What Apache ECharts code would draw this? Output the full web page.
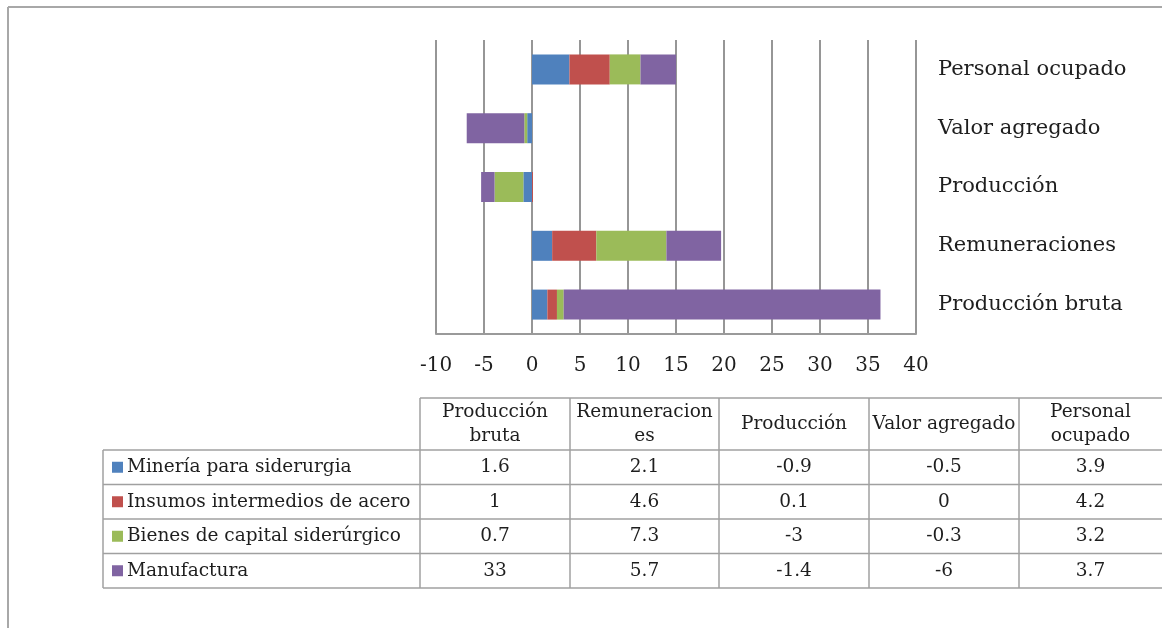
<!DOCTYPE html>
<html>
<head>
<meta charset="utf-8">
<script src="https://cdn.jsdelivr.net/npm/echarts@6/dist/echarts.min.js"></script>
<style>
  html, body { margin: 0; padding: 0; background: #ffffff; }
  #chart { width: 1162px; height: 628px; }
</style>
</head>
<body>
<div id="chart"></div>
<script>
// Indicators (bottom to top on the chart, left to right in the data table)
const categories = ['Producción bruta', 'Remuneraciones', 'Producción', 'Valor agregado', 'Personal ocupado'];
// Column headings of the data table, wrapped as they appear in the cells
const tableHeaders = ['Producción\nbruta', 'Remuneracion\nes', 'Producción', 'Valor agregado', 'Personal\nocupado'];

// Sector contributions per indicator
const seriesNames = ['Minería para siderurgia', 'Insumos intermedios de acero', 'Bienes de capital siderúrgico', 'Manufactura'];
const mineria     = [1.6, 2.1, -0.9, -0.5, 3.9];
const insumos     = [1, 4.6, 0.1, 0, 4.2];
const bienes      = [0.7, 7.3, -3, -0.3, 3.2];
const manufactura = [33, 5.7, -1.4, -6, 3.7];
const seriesColors = ['#4F81BD', '#C0504D', '#9BBB59', '#8064A2'];

// Value axis range
const xMin = -10, xMax = 40, xStep = 5;

const seriesValues = [mineria, insumos, bienes, manufactura];

const FONT = '"DejaVu Serif", "Liberation Serif", serif';
const TEXT = '#1e1e1e';
const RULE = '#a0a0a0';

// Plot rectangle
const plot = { left: 436, top: 40, width: 480, height: 294 };

// Data table layout
const table = {
  legendLeft: 103,
  colEdges: [420, 570, 719, 869, 1019, 1162],
  headerTop: 398,
  headerBottom: 450,
  rowHeight: 34.5,
  right: 1162
};

const graphics = [];

function hline(x1, x2, y, w, c) {
  graphics.push({ type: 'line', silent: true, shape: { x1: x1, y1: y, x2: x2, y2: y }, style: { stroke: c || RULE, lineWidth: w || 1.5 } });
}
function vline(x, y1, y2, w, c) {
  graphics.push({ type: 'line', silent: true, shape: { x1: x, y1: y1, x2: x, y2: y2 }, style: { stroke: c || RULE, lineWidth: w || 1.5 } });
}
function text(str, x, y, align, size, lh) {
  graphics.push({
    type: 'text', silent: true, x: x, y: y,
    style: {
      text: str, fill: TEXT, fontFamily: FONT, fontSize: size || 18,
      align: align || 'center', verticalAlign: 'middle', lineHeight: lh || 24
    }
  });
}

// Outer frame (top and left edges)
hline(8, 1162, 7, 2, '#a8a8a8');
vline(8, 7, 628, 2, '#a8a8a8');

// Data table grid
const nRows = seriesNames.length;
const bodyBottom = table.headerBottom + nRows * table.rowHeight;
hline(table.colEdges[0], table.right, table.headerTop);
for (let r = 0; r <= nRows; r++) {
  hline(table.legendLeft, table.right, table.headerBottom + r * table.rowHeight);
}
vline(table.legendLeft, table.headerBottom, bodyBottom);
table.colEdges.slice(0, -1).forEach(function (x) {
  vline(x, table.headerTop, bodyBottom);
});

// Column headings
const colCenters = [];
for (let c = 0; c < categories.length; c++) {
  const cx = (table.colEdges[c] + table.colEdges[c + 1]) / 2;
  colCenters.push(cx);
  text(tableHeaders[c], cx, (table.headerTop + table.headerBottom) / 2, 'center', 18.5, 24);
}

// Rows: legend key + values
for (let r = 0; r < nRows; r++) {
  const cy = table.headerBottom + (r + 0.5) * table.rowHeight;
  graphics.push({
    type: 'rect', silent: true,
    shape: { x: 112, y: cy - 5.5, width: 11, height: 11 },
    style: { fill: seriesColors[r] }
  });
  text(seriesNames[r], 127, cy, 'left', 18.5);
  for (let c = 0; c < categories.length; c++) {
    text(String(seriesValues[r][c]), colCenters[c], cy, 'center', 18.5);
  }
}

const chart = echarts.init(document.getElementById('chart'), null, { renderer: 'canvas' });

chart.setOption({
  backgroundColor: '#ffffff',
  animation: false,
  grid: {
    left: plot.left, top: plot.top, width: plot.width, height: plot.height,
    containLabel: false, outerBoundsMode: 'none'
  },
  xAxis: {
    type: 'value',
    min: xMin, max: xMax, interval: xStep,
    axisLine: { show: true, lineStyle: { color: '#9a9a9a', width: 2 } },
    axisTick: { show: false },
    axisLabel: {
      margin: 22, color: TEXT, fontFamily: FONT, fontSize: 20,
      showMinLabel: true, showMaxLabel: true
    },
    splitLine: { show: true, lineStyle: { color: '#969696', width: 2 } }
  },
  yAxis: {
    type: 'category',
    position: 'right',
    data: categories,
    axisLine: { show: false },
    axisTick: { show: false },
    splitLine: { show: false },
    axisLabel: { margin: 22, color: TEXT, fontFamily: FONT, fontSize: 21 }
  },
  series: seriesNames.map(function (name, i) {
    return {
      name: name,
      type: 'bar',
      stack: 'total',
      barWidth: 30,
      itemStyle: { color: seriesColors[i] },
      data: seriesValues[i]
    };
  }),
  graphic: graphics
});
</script>
</body>
</html>
